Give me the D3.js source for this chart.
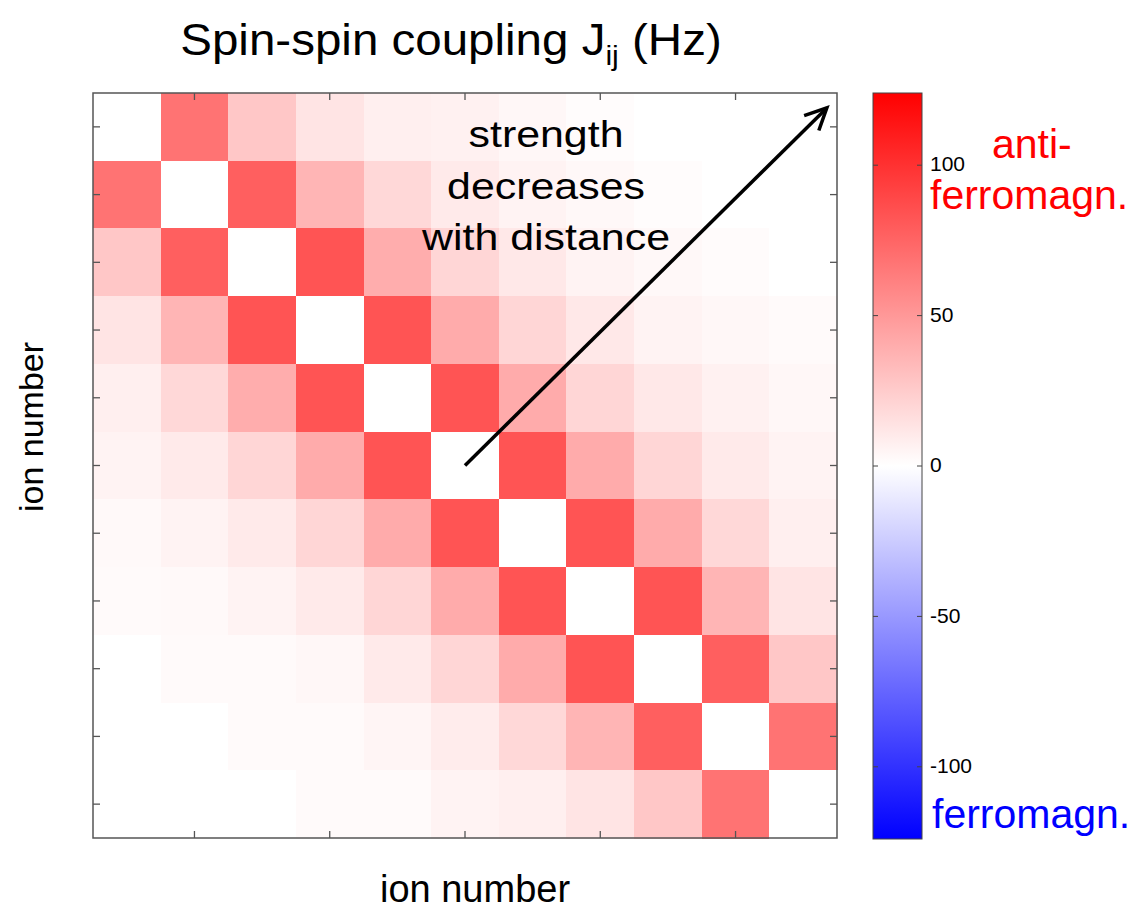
<!DOCTYPE html>
<html>
<head>
<meta charset="utf-8">
<script src="https://cdn.jsdelivr.net/npm/d3@7"></script>
<style>
  body { margin: 0; background: #fff; }
  text { font-family: "Liberation Sans", Arial, Helvetica, sans-serif; }
</style>
</head>
<body>
<div id="chart"></div>
<script>
// ion indices (rows = i, columns = j)
var ions = [1, 2, 3, 4, 5, 6, 7, 8, 9, 10, 11];

// spin-spin coupling J_ij in Hz
var J = [
    [0, 68, 27, 13, 8, 7, 4, 1.5, 0, 0, 0],
    [68, 0, 78, 36, 19, 10, 6, 3.4, 1.5, 0, 0],
    [27, 78, 0, 83, 40, 20, 11, 6, 3.4, 2, 0],
    [13, 36, 83, 0, 83, 41, 20, 11, 6, 4, 2.4],
    [8, 19, 40, 83, 0, 83, 41, 20, 11, 7, 4],
    [6, 10, 20, 41, 83, 0, 83, 41, 20, 10, 6],
    [3, 6, 10, 20, 41, 83, 0, 83, 41, 19, 8],
    [2.4, 3, 6, 10, 20, 41, 83, 0, 83, 36, 13],
    [0, 2.4, 2.4, 4, 10, 20, 41, 83, 0, 78, 27],
    [0, 0, 2.4, 2.4, 5, 9, 19, 36, 78, 0, 68],
    [0, 0, 0, 2.4, 2.4, 6, 8, 13, 27, 68, 0]
];

var xTickIons = [2, 4, 6, 8, 10];
var cbarTicks = [-100, -50, 0, 50, 100];
var cmax = 124;

var W = 1130, H = 909;
var plot = {left: 93, right: 837, top: 93, bottom: 838};
var cbar = {left: 873, right: 922, top: 93, bottom: 839};

var svg = d3.select('#chart')
    .append('svg')
    .attr('width', W)
    .attr('height', H);

var x = d3.scaleBand()
    .domain(ions)
    .range([plot.left, plot.right]);

var y = d3.scaleBand()
    .domain(ions)
    .range([plot.top, plot.bottom]);

var color = d3.scaleLinear()
    .domain([-cmax, 0, cmax])
    .range(['#0000ff', '#ffffff', '#ff0000']);

// cells
var cells = [];
J.forEach(function (row, i) {
    row.forEach(function (v, j) {
        cells.push({i: ions[i], j: ions[j], v: v});
    });
});

svg.append('g')
    .selectAll('rect')
    .data(cells)
    .enter().append('rect')
    .attr('x', function (d) { return x(d.j); })
    .attr('y', function (d) { return y(d.i); })
    .attr('width', x.bandwidth() + 0.5)
    .attr('height', y.bandwidth() + 0.5)
    .attr('fill', function (d) { return color(d.v); })
    .attr('shape-rendering', 'crispEdges');

// axes, ticks pointing inward, no labels
var tickLen = 7;
function styleAxis(g) {
    g.select('.domain').remove();
    g.selectAll('.tick line').attr('stroke', '#555').attr('stroke-width', 1.3);
    g.selectAll('.tick text').remove();
}

svg.append('g')
    .attr('transform', 'translate(0,' + plot.bottom + ')')
    .call(d3.axisBottom(x).tickValues(xTickIons).tickSize(-tickLen).tickSizeOuter(0))
    .call(styleAxis);

svg.append('g')
    .attr('transform', 'translate(0,' + plot.top + ')')
    .call(d3.axisTop(x).tickValues(xTickIons).tickSize(-tickLen).tickSizeOuter(0))
    .call(styleAxis);

svg.append('g')
    .attr('transform', 'translate(' + plot.left + ',0)')
    .call(d3.axisLeft(y).tickSize(-tickLen).tickSizeOuter(0))
    .call(styleAxis);

svg.append('g')
    .attr('transform', 'translate(' + plot.right + ',0)')
    .call(d3.axisRight(y).tickSize(-tickLen).tickSizeOuter(0))
    .call(styleAxis);

svg.append('rect')
    .attr('x', plot.left)
    .attr('y', plot.top)
    .attr('width', plot.right - plot.left)
    .attr('height', plot.bottom - plot.top)
    .attr('fill', 'none')
    .attr('stroke', '#555')
    .attr('stroke-width', 1.5);

// colorbar
var cy = d3.scaleLinear()
    .domain([-cmax, cmax])
    .range([cbar.bottom, cbar.top]);

var grad = svg.append('defs')
    .append('linearGradient')
    .attr('id', 'cbarGrad')
    .attr('x1', 0).attr('y1', 1)
    .attr('x2', 0).attr('y2', 0);

grad.selectAll('stop')
    .data(color.domain())
    .enter().append('stop')
    .attr('offset', function (d) { return (d + cmax) / (2 * cmax); })
    .attr('stop-color', function (d) { return color(d); });

svg.append('rect')
    .attr('x', cbar.left)
    .attr('y', cbar.top)
    .attr('width', cbar.right - cbar.left)
    .attr('height', cbar.bottom - cbar.top)
    .attr('fill', 'url(#cbarGrad)')
    .attr('stroke', '#444')
    .attr('stroke-width', 1);

var cg = svg.append('g');
cg.selectAll('line.l')
    .data(cbarTicks)
    .enter().append('line')
    .attr('x1', cbar.left).attr('x2', cbar.left + 5)
    .attr('y1', function (d) { return cy(d); })
    .attr('y2', function (d) { return cy(d); })
    .attr('stroke', '#444');
cg.selectAll('line.r')
    .data(cbarTicks)
    .enter().append('line')
    .attr('x1', cbar.right - 5).attr('x2', cbar.right)
    .attr('y1', function (d) { return cy(d); })
    .attr('y2', function (d) { return cy(d); })
    .attr('stroke', '#444');
cg.selectAll('text')
    .data(cbarTicks)
    .enter().append('text')
    .attr('x', cbar.right + 8)
    .attr('y', function (d) { return cy(d); })
    .attr('dy', '0.3em')
    .attr('font-size', 21)
    .attr('fill', '#000')
    .text(function (d) { return d; });

svg.append('text')
    .attr('x', 992).attr('y', 158)
    .attr('font-size', 41)
    .attr('fill', '#ff0000')
    .text('anti-');
svg.append('text')
    .attr('x', 930).attr('y', 209)
    .attr('font-size', 41)
    .attr('fill', '#ff0000')
    .text('ferromagn.');
svg.append('text')
    .attr('x', 932).attr('y', 828)
    .attr('font-size', 41)
    .attr('fill', '#0000ff')
    .text('ferromagn.');

// title
var title = svg.append('text')
    .attr('transform', 'translate(451,55) scale(1.08,1)')
    .attr('text-anchor', 'middle')
    .attr('font-size', 44)
    .attr('fill', '#000');
title.append('tspan').text('Spin-spin coupling J');
title.append('tspan').attr('font-size', 28).attr('dy', 10).text('ij');
title.append('tspan').attr('dy', -10).text(' (Hz)');

// axis labels
svg.append('text')
    .attr('x', 475).attr('y', 902)
    .attr('text-anchor', 'middle')
    .attr('font-size', 38)
    .text('ion number');

svg.append('text')
    .attr('transform', 'translate(43,427) rotate(-90)')
    .attr('text-anchor', 'middle')
    .attr('font-size', 34)
    .text('ion number');

// annotation
var pos = d3.scaleLinear().domain([0, 11]).range([plot.left, plot.right]);
var posY = d3.scaleLinear().domain([0, 11]).range([plot.top, plot.bottom]);

var noteLines = ['strength', 'decreases', 'with distance'];
var noteBase = [147, 199, 250];
svg.append('g')
    .selectAll('text')
    .data(noteLines)
    .enter().append('text')
    .attr('transform', function (d, k) { return 'translate(546,' + noteBase[k] + ') scale(1.16,1)'; })
    .attr('text-anchor', 'middle')
    .attr('font-size', 37)
    .text(function (d) { return d; });

// arrow from the diagonal center towards the upper right corner
var ax0 = pos(5.5), ay0 = posY(5.5), ax1 = pos(10.85), ay1 = posY(0.22);
svg.append('line')
    .attr('x1', ax0).attr('y1', ay0)
    .attr('x2', ax1).attr('y2', ay1)
    .attr('stroke', '#000')
    .attr('stroke-width', 3.5);

var ang = Math.atan2(ay1 - ay0, ax1 - ax0);
var headLen = 24, headAng = 0.45;
var head = d3.path();
head.moveTo(ax1 - headLen * Math.cos(ang - headAng), ay1 - headLen * Math.sin(ang - headAng));
head.lineTo(ax1, ay1);
head.lineTo(ax1 - headLen * Math.cos(ang + headAng), ay1 - headLen * Math.sin(ang + headAng));
svg.append('path')
    .attr('d', head.toString())
    .attr('fill', 'none')
    .attr('stroke', '#000')
    .attr('stroke-width', 3.5)
    .attr('stroke-linejoin', 'miter');
</script>
</body>
</html>
